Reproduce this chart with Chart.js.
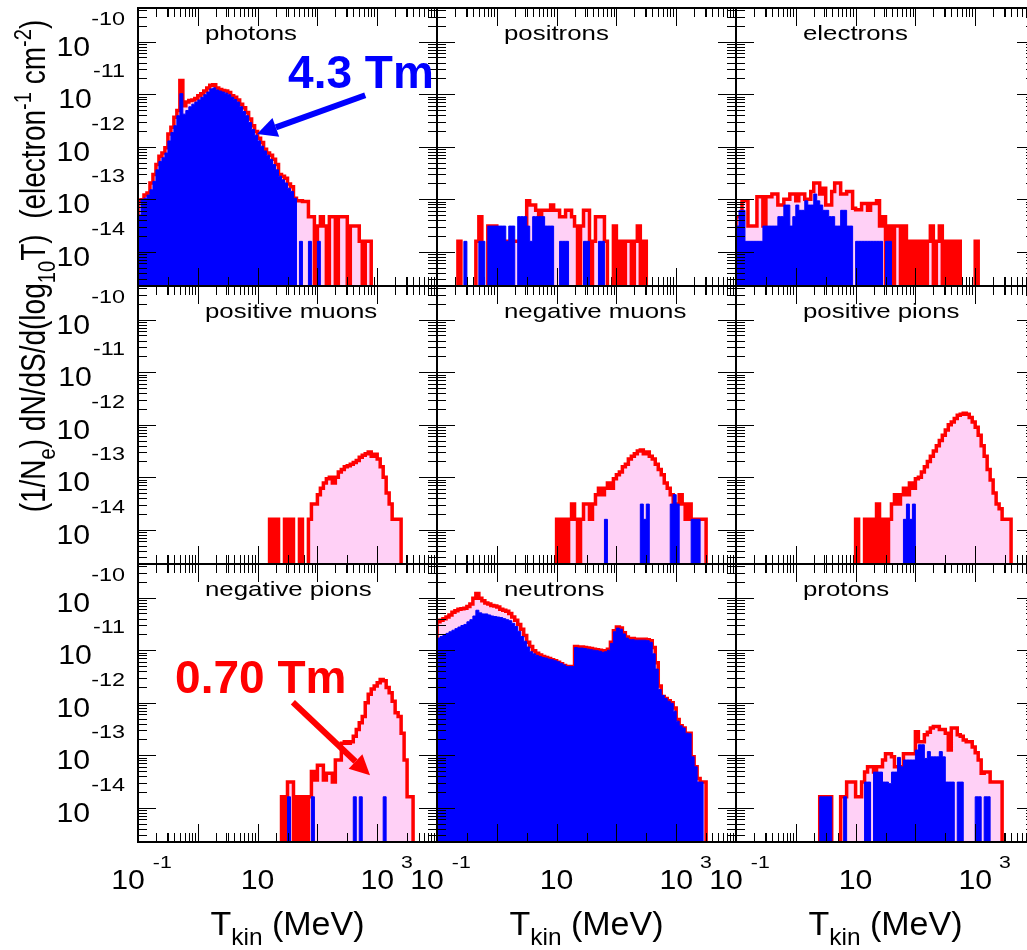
<!DOCTYPE html>
<html>
<head>
<meta charset="utf-8">
<script src="https://cdn.jsdelivr.net/npm/chart.js@4.4.1/dist/chart.umd.min.js"></script>
<style>
  html, body { margin: 0; padding: 0; background: #fff; overflow: hidden; }
  #wrap { position: relative; width: 1027px; height: 950px; overflow: hidden; background: #fff; }
  #wrap canvas { position: absolute; left: 0; top: 0; }
</style>
</head>
<body>
<div id="wrap"></div>
<script>
// histogram bins are 0.05 wide in log10(T/MeV); values are log10 of the flux, null = empty bin
const binWidth = 0.05;

const panelNames = ['photons', 'positrons', 'electrons',
                    'positive muons', 'negative muons', 'positive pions',
                    'negative pions', 'neutrons', 'protons'];

// red = 0.70 Tm, blue = 4.3 Tm ; *Start = log10(T) of the first bin's lower edge
const photonsStart = -1.0;
const photonsRed = [-13.04, -13.01, -12.92, -12.88, -12.69, -12.53, -12.34, -12.18, -12.12, -12.02,
                    -11.76, -11.63, -11.44, -11.31, -10.74, -11.22, -11.15, -11.12, -11.11, -11.08,
                    -11.03, -10.99, -10.94, -10.88, -10.83, -10.82, -10.88, -10.91, -10.93, -10.94,
                    -10.97, -11.03, -11.06, -11.11, -11.19, -11.26, -11.35, -11.47, -11.60, -11.71,
                    -11.84, -11.92, -12.05, -12.12, -12.16, -12.24, -12.34, -12.53, -12.56, -12.60,
                    -12.71, -12.76, -12.98, -13.03, -13.03, -13.04, -13.04, -13.33, -13.33, null,
                    -13.51, -13.33, -13.51, null, -13.33, -13.33, null, -13.33, -13.33, -13.33,
                    null, -13.51, -13.51, -13.51, -13.80, null, -13.80, -13.80];
const photonsBlue = [-13.30, -13.00, -12.98, -12.92, -12.82, -12.66, -12.44, -12.28, -12.21, -12.12,
                     -11.89, -11.73, -11.60, -11.41, -10.99, -11.38, -11.31, -11.24, -11.19, -11.15,
                     -11.11, -11.06, -11.01, -10.96, -10.90, -10.88, -10.92, -10.94, -10.96, -10.98,
                     -11.01, -11.06, -11.10, -11.15, -11.24, -11.33, -11.41, -11.54, -11.67, -11.78,
                     -11.89, -11.99, -12.08, -12.16, -12.24, -12.34, -12.44, -12.56, -12.63, -12.69,
                     -12.79, -12.85, -12.98, null, -13.80, null, null, -13.80, null, null,
                     -13.80];

const positronsStart = -0.65;
const positronsRed = [-13.80, null, null, null, null, null, -13.80, -13.33, null, null,
                      -13.51, -13.51, -13.51, -13.80, -13.80, -13.80, -13.80, -13.80, -13.80, -13.80,
                      -13.80, -13.51, -13.51, -13.03, -13.11, -13.11, -13.21, -13.33, -13.21, -13.21,
                      -13.21, -13.11, -13.21, -13.21, -13.33, -13.33, -13.21, -13.21, -13.33, -13.51,
                      null, -13.51, -13.21, -13.21, null, -13.80, -13.33, -13.33, -13.33, -13.80,
                      null, null, -13.51, null, -13.80, null, -13.80, -13.80, null, -13.80,
                      -13.51, null, -13.80];
const positronsBlue = [null, null, -13.80, null, null, null, null, -13.80, -13.80, null,
                       -13.51, -13.51, -13.51, -13.51, -13.51, -13.51, -13.80, -13.51, -13.51, null,
                       -13.33, -13.33, -13.33, -13.51, -13.80, -13.33, -13.33, -13.33, -13.33, -13.51,
                       -13.51, -13.51, null, null, -13.80, -13.80, -13.80, null, null, null,
                       null, null, -13.80, -13.80, null, null, null, -13.80, -13.80];

const electronsStart = -1.0;
const electronsRed = [-13.33, -13.33, -13.03, -13.03, -13.51, -13.51, -13.51, -12.95, -12.95, -13.51,
                      -12.95, -12.95, -12.90, -12.90, -13.11, -13.11, -13.00, -13.00, -12.90, -12.90,
                      -13.03, -12.90, -12.90, -13.00, -13.00, -12.85, -12.69, -12.69, -12.90, -12.79,
                      -13.11, -13.11, -12.85, -12.69, -12.69, -12.90, -12.90, -12.85, -12.85, -13.17,
                      -13.20, -13.20, -13.08, -13.08, -13.21, -13.08, -13.08, -13.03, -13.51, -13.33,
                      null, -13.51, null, -13.51, -13.51, null, -13.51, null, -13.80, null,
                      -13.80, null, -13.80, null, -13.80, -13.51, null, -13.80, -13.51, null,
                      -13.80, null, -13.80, null, -13.80, null, null, null, null, null,
                      -13.80, null];
const electronsBlue = [-13.51, -13.21, -13.21, -13.80, -13.80, -13.80, -13.80, -13.80, -13.80, -13.51,
                       -13.51, -13.51, -13.51, -13.51, -13.33, -13.33, -13.11, -13.11, -13.51, -13.33,
                       -13.11, -13.21, -13.21, -13.03, -13.11, -13.11, -12.90, -13.03, -13.11, -13.21,
                       -13.21, -13.33, -13.33, -13.51, -13.51, -13.21, -13.21, -13.51, -13.51, null,
                       -13.80, -13.80, -13.80, -13.80, -13.80, -13.80, -13.80, -13.80, -13.80, null,
                       -13.80, -13.80];

const positiveMuonsStart = 1.2;
const positiveMuonsRed = [-13.80, null, -13.80, null, null, -13.80, null, -13.80, null, null,
                          -13.80, null, null, -13.80, -13.51, -13.51, -13.33, -13.21, -13.11, -13.03,
                          -13.00, -13.11, -13.00, -12.90, -12.85, -12.80, -12.78, -12.75, -12.72, -12.68,
                          -12.62, -12.58, -12.55, -12.52, -12.60, -12.56, -12.65, -12.80, -13.00, -13.30,
                          -13.51, -13.80, -13.80, -13.80];
const positiveMuonsBlue = [];

const negativeMuonsStart = 1.0;
const negativeMuonsRed = [-13.80, null, -13.80, null, -13.80, -13.51, -13.80, null, -13.80, -13.51,
                          -13.51, -13.80, -13.51, -13.33, -13.21, -13.33, -13.21, -13.11, -13.21, -13.03,
                          -12.95, -12.90, -12.80, -12.75, -12.65, -12.60, -12.55, -12.50, -12.48, -12.55,
                          -12.52, -12.60, -12.65, -12.75, -12.85, -12.95, -13.11, -13.21, -13.33, -13.51,
                          -13.51, -13.33, -13.51, -13.80, -13.51, -13.80, -13.80, -13.80, -13.80, -13.80];
const negativeMuonsBlue = [null, null, null, null, null, null, null, null, null, null,
                           null, null, null, null, null, null, -13.80, null, null, null,
                           null, null, null, null, null, null, null, null, -13.51, -13.80,
                           -13.51, null, null, null, null, null, null, null, -13.51, -13.33,
                           -13.51, null, null, null, null, -13.80, -13.80, -13.80];

const positivePionsStart = 1.0;
const positivePionsRed = [-13.80, null, null, -13.80, null, -13.80, null, -13.51, null, -13.80,
                          null, -13.80, -13.51, -13.33, -13.51, -13.33, -13.21, -13.33, -13.11, -13.21,
                          -13.03, -13.00, -12.90, -12.80, -12.70, -12.60, -12.50, -12.40, -12.30, -12.20,
                          -12.10, -12.00, -11.95, -11.88, -11.82, -11.80, -11.78, -11.80, -11.86, -11.95,
                          -12.05, -12.20, -12.40, -12.60, -12.85, -13.05, -13.30, -13.51, -13.60, -13.80,
                          -13.80, -13.80];
const positivePionsBlue = [null, null, null, null, null, null, null, null, null, null,
                           null, null, null, null, null, null, -13.80, -13.51, -13.80, -13.51];

const negativePionsStart = 1.4;
const negativePionsRed = [-13.79, null, -13.51, -13.51, null, -13.79, null, -13.79, null, -13.79,
                          -13.31, -13.47, -13.19, -13.19, -13.47, -13.34, -13.34, -13.51, -13.09, -13.09,
                          -12.77, -12.74, -12.77, -12.74, -12.64, -12.51, -12.38, -12.26, -12.00, -11.84,
                          -11.74, -11.68, -11.62, -11.56, -11.58, -11.71, -11.81, -11.97, -12.19, -12.26,
                          -12.58, -13.09, -13.79, -13.79];
const negativePionsBlue = [null, null, -13.79, null, null, null, null, null, null, null,
                           -13.79, null, null, null, null, null, null, null, null, null,
                           null, null, null, null, -13.79, null, -13.79, null, null, null,
                           null, null, null, null, -13.79];

const neutronsStart = -1.0;
const neutronsRed = [-10.46, -10.43, -10.40, -10.37, -10.33, -10.28, -10.25, -10.22, -10.21, -10.20,
                     -10.17, -10.12, -10.01, -9.92, -10.01, -10.06, -10.10, -10.12, -10.15, -10.16,
                     -10.18, -10.22, -10.24, -10.26, -10.30, -10.37, -10.43, -10.51, -10.60, -10.72,
                     -10.85, -10.93, -11.01, -11.06, -11.09, -11.12, -11.14, -11.16, -11.18, -11.20,
                     -11.23, -11.26, -11.29, -11.32, -11.31, -11.31, -10.93, -10.94, -10.94, -10.95,
                     -10.96, -10.97, -10.98, -10.99, -11.00, -11.02, -11.01, -10.98, -10.85, -10.63,
                     -10.56, -10.58, -10.67, -10.75, -10.78, -10.78, -10.79, -10.79, -10.79, -10.79,
                     -10.80, -10.82, -10.95, -11.24, -11.68, -11.88, -11.92, -11.96, -12.00, -12.10,
                     -12.32, -12.44, -12.48, -12.58, -12.58, -13.03, -13.22, -13.44, -13.51, -13.51];
const neutronsBlue = [-10.77, -10.74, -10.71, -10.68, -10.65, -10.62, -10.59, -10.56, -10.53, -10.51,
                      -10.46, -10.42, -10.35, -10.24, -10.29, -10.31, -10.31, -10.33, -10.35, -10.36,
                      -10.37, -10.38, -10.40, -10.42, -10.44, -10.49, -10.55, -10.64, -10.74, -10.83,
                      -10.94, -11.03, -11.07, -11.10, -11.12, -11.14, -11.15, -11.17, -11.18, -11.20,
                      -11.22, -11.25, -11.28, -11.31, -11.31, -11.31, -10.95, -10.96, -10.96, -10.97,
                      -10.98, -10.99, -11.00, -11.01, -11.02, -11.04, -11.03, -11.00, -10.87, -10.65,
                      -10.58, -10.60, -10.69, -10.77, -10.80, -10.80, -10.81, -10.81, -10.81, -10.81,
                      -10.82, -10.85, -11.07, -11.36, -11.75, -11.86, -11.92, -11.97, -12.01, -12.16,
                      -12.35, -12.44, -12.48, -12.58, -12.59, -13.03, -13.22, -13.51, -13.51];

const protonsStart = 0.4;
const protonsRed = [-13.79, -13.79, -13.79, -13.79, null, null, null, -13.79, -13.79, -13.51,
                    -13.51, -13.51, -13.79, -13.79, -13.51, -13.32, -13.22, -13.22, -13.32, -13.22,
                    -13.22, -13.09, -12.97, -12.97, -13.03, -13.22, -13.22, -13.22, -12.97, -12.97,
                    -12.97, -12.97, -12.55, -12.74, -12.74, -12.61, -12.56, -12.48, -12.45, -12.45,
                    -12.51, -12.51, -12.58, -12.90, -12.48, -12.48, -12.61, -12.64, -12.71, -12.74,
                    -12.74, -12.84, -12.95, -13.09, -13.34, -13.32, -13.32, -13.51, -13.51, -13.51,
                    -13.51];
const protonsBlue = [-13.79, -13.79, -13.79, -13.79, null, null, null, null, -13.79, null,
                     null, null, null, null, null, -13.51, -13.51, null, -13.32, -13.32,
                     -13.32, -13.51, -13.51, -13.54, -13.32, -13.32, -13.04, -13.22, -13.09, -13.09,
                     -13.09, -13.09, -12.90, -12.80, -12.80, -13.06, -12.93, -13.03, -13.03, -13.03,
                     -12.93, -13.03, -13.51, -13.51, -13.51, null, -13.51, -13.51, null, null,
                     null, null, -13.79, -13.79, null, -13.79, -13.79];

// axis ticks that carry labels (powers of ten)
const xLabelPowers = [-1, 1, 3];
const yLabelPowers = [-10, -11, -12, -13, -14];

const panelData = [
  [photonsStart, photonsRed, photonsBlue],
  [positronsStart, positronsRed, positronsBlue],
  [electronsStart, electronsRed, electronsBlue],
  [positiveMuonsStart, positiveMuonsRed, positiveMuonsBlue],
  [negativeMuonsStart, negativeMuonsRed, negativeMuonsBlue],
  [positivePionsStart, positivePionsRed, positivePionsBlue],
  [negativePionsStart, negativePionsRed, negativePionsBlue],
  [neutronsStart, neutronsRed, neutronsBlue],
  [protonsStart, protonsRed, protonsBlue]
];

// ---- layout ----
const pageW = 1040, pageH = 950;
const colLeft = [138, 437, 736], rowTop = [8, 286, 564];
const panelW = 299, panelH = 278;
const xMin = 0.1, xMax = 1e4;
const yMin = Math.pow(10, -14.65), yMax = Math.pow(10, -9.36);
const emptyLevel = 1e-17;
const FONT = '"Liberation Sans", Arial, Helvetica, sans-serif';
const RED = '#ff0000', PINK = '#ffd0f6', BLUE = '#0000ff';

function steps(start, logs) {
  const pts = [];
  if (!logs.length) return pts;
  pts.push({ x: Math.pow(10, start), y: emptyLevel });
  logs.forEach((v, i) => {
    pts.push({ x: Math.pow(10, start + i * binWidth), y: v === null ? emptyLevel : Math.pow(10, v) });
  });
  pts.push({ x: Math.pow(10, start + logs.length * binWidth), y: emptyLevel });
  return pts;
}

function txt(ctx, str, x, y, size, o) {
  o = o || {};
  ctx.save();
  ctx.font = (o.bold ? 'bold ' : '') + size + 'px ' + FONT;
  ctx.fillStyle = o.color || '#000';
  ctx.textAlign = 'left';
  ctx.textBaseline = 'alphabetic';
  const s = o.stretch || 1;
  const w = ctx.measureText(str).width * s;
  let left = x;
  if (o.align === 'center') left = x - w / 2;
  else if (o.align === 'right') left = x - w;
  ctx.translate(left, y);
  ctx.scale(s, o.vstretch || 1);
  ctx.fillText(str, 0, 0);
  ctx.restore();
  return w;
}

function txtWidth(ctx, str, size, stretch) {
  ctx.save();
  ctx.font = size + 'px ' + FONT;
  const w = ctx.measureText(str).width * (stretch || 1);
  ctx.restore();
  return w;
}

// parts: [text, '' | 'sub' | 'sup'], centred on x
function rich(ctx, parts, x, y, size, stretch, vstretch) {
  const vs = vstretch || 1;
  let w = 0;
  parts.forEach(p => { w += txtWidth(ctx, p[0], p[1] ? size * 0.72 : size, stretch); });
  let cx = x - w / 2;
  parts.forEach(p => {
    const o = { stretch, vstretch: vs };
    if (p[1] === 'sub') cx += txt(ctx, p[0], cx, y + size * 0.3 * vs, size * 0.72, o);
    else if (p[1] === 'sup') cx += txt(ctx, p[0], cx, y - size * 0.42 * vs, size * 0.72, o);
    else cx += txt(ctx, p[0], cx, y, size, o);
  });
}

function arrow(ctx, x1, y1, x2, y2, color, width, headL, headW) {
  const a = Math.atan2(y2 - y1, x2 - x1);
  const bx = x2 - headL * Math.cos(a), by = y2 - headL * Math.sin(a);
  ctx.save();
  ctx.strokeStyle = color; ctx.fillStyle = color; ctx.lineWidth = width;
  ctx.beginPath(); ctx.moveTo(x1, y1); ctx.lineTo(bx, by); ctx.stroke();
  ctx.beginPath();
  ctx.moveTo(x2, y2);
  ctx.lineTo(bx + headW / 2 * Math.sin(a), by - headW / 2 * Math.cos(a));
  ctx.lineTo(bx - headW / 2 * Math.sin(a), by + headW / 2 * Math.cos(a));
  ctx.closePath(); ctx.fill();
  ctx.restore();
}

// annotations: [panel, label, colour, text logT, text log flux, arrow tail logT, tail flux, tip logT, tip flux]
const notes = [
  [0, '4.3 Tm', BLUE, 1.51, -10.88, 2.80, -11.02, 0.99, -11.76],
  [6, '0.70 Tm', RED, -0.38, -11.82, 1.59, -11.99, 2.88, -13.38]
];

function tickLine(ctx, x1, y1, x2, y2) {
  ctx.beginPath(); ctx.moveTo(x1, y1); ctx.lineTo(x2, y2); ctx.stroke();
}

function xTicks(chart, layer) {
  const { ctx, chartArea: a } = chart;
  const xs = chart.scales.x;
  ctx.save();
  ctx.strokeStyle = '#000'; ctx.lineWidth = 1;
  for (let d = -1; d <= 4; d++) {
    const marks = [];
    if (layer === 'under') { for (let m = 2; m <= 9; m++) marks.push([m * Math.pow(10, d), 9]); }
    else { marks.push([Math.pow(10, d), 18]); marks.push([Math.pow(10, d + 0.5), 9]); }
    marks.forEach(([v, len]) => {
      if (v < xMin * 0.999 || v > xMax * 1.001) return;
      const px = Math.round(xs.getPixelForValue(v)) + 0.5;
      tickLine(ctx, px, a.bottom, px, a.bottom - len);
      tickLine(ctx, px, a.top, px, a.top + len);
    });
  }
  ctx.restore();
}

function yTicks(chart) {
  const { ctx, chartArea: a } = chart;
  const ys = chart.scales.y;
  ctx.save();
  ctx.strokeStyle = '#000'; ctx.lineWidth = 1;
  for (let d = -15; d <= -9; d++) {
    for (let m = 1; m <= 9; m++) {
      const v = m * Math.pow(10, d);
      if (v < yMin || v > yMax) continue;
      const len = m === 1 ? 18 : 9;
      const py = Math.round(ys.getPixelForValue(v)) + 0.5;
      tickLine(ctx, a.left, py, a.left + len, py);
      tickLine(ctx, a.right, py, a.right - len, py);
    }
  }
  ctx.restore();
}

const rootPanel = {
  id: 'rootPanel',
  beforeDatasetsDraw(chart) {
    xTicks(chart, 'under');
  },
  afterDatasetsDraw(chart, args, opts) {
    const { ctx, chartArea: a } = chart;
    const xs = chart.scales.x, ys = chart.scales.y;
    const idx = opts.index, col = idx % 3, row = Math.floor(idx / 3);
    xTicks(chart, 'over');
    yTicks(chart);
    ctx.save();
    ctx.strokeStyle = '#000'; ctx.lineWidth = 2;
    ctx.strokeRect(a.left, a.top, a.right - a.left, a.bottom - a.top);
    ctx.restore();

    txt(ctx, panelNames[idx], a.left + 67, a.top + 32, 21, { stretch: 1.23 });

    if (col === 0) {
      yLabelPowers.forEach(p => {
        const py = ys.getPixelForValue(Math.pow(10, p));
        const ew = txtWidth(ctx, String(p), 18, 1.3);
        const eLeft = a.left - 13 - ew;
        txt(ctx, String(p), eLeft, py - 17, 18, { stretch: 1.3 });
        txt(ctx, '10', eLeft - 1, py + 14, 27, { stretch: 1.12, align: 'right' });
      });
    }
    if (row === 2) {
      xLabelPowers.forEach(p => {
        const px = xs.getPixelForValue(Math.pow(10, p));
        const bw = txtWidth(ctx, '10', 27, 1.12);
        const bc = p < 0 ? px - 10 : px;
        txt(ctx, '10', bc - bw / 2, a.bottom + 47, 27, { stretch: 1.12 });
        if (p !== 1) txt(ctx, String(p), bc + bw / 2 + (p < 0 ? 8 : 7), a.bottom + 26, 17, { stretch: 1.25 });
      });
    }

    notes.filter(n => n[0] === idx).forEach(n => {
      txt(ctx, n[1], xs.getPixelForValue(Math.pow(10, n[3])), ys.getPixelForValue(Math.pow(10, n[4])),
          46, { bold: true, color: n[2] });
      arrow(ctx, xs.getPixelForValue(Math.pow(10, n[5])), ys.getPixelForValue(Math.pow(10, n[6])),
            xs.getPixelForValue(Math.pow(10, n[7])), ys.getPixelForValue(Math.pow(10, n[8])),
            n[2], 6, 20, 20);
    });
  },
  afterDraw(chart, args, opts) {
    if (opts.index !== 0) return;
    const ctx = chart.ctx;
    // x axis titles under each column
    colLeft.forEach(l => {
      rich(ctx, [['T', ''], ['kin', 'sub'], [' (MeV)', '']], l + panelW / 2, 935, 34, 1.0);
    });
    // y axis title, rotated
    ctx.save();
    ctx.translate(45, 266);
    ctx.rotate(-Math.PI / 2);
    rich(ctx, [['(1/N', ''], ['e', 'sub'], [') dN/dS/d(log', ''], ['10', 'sub'], ['T)  (electron', ''],
               ['-1', 'sup'], [' cm', ''], ['-2', 'sup'], [')', '']], 0, 0, 28, 1.0, 1.22);
    ctx.restore();
  }
};

const wrap = document.getElementById('wrap');
panelData.forEach((pd, idx) => {
  const col = idx % 3, row = Math.floor(idx / 3);
  const canvas = document.createElement('canvas');
  canvas.width = pageW; canvas.height = pageH;
  wrap.appendChild(canvas);
  new Chart(canvas, {
    type: 'line',
    data: {
      datasets: [
        { data: steps(pd[0], pd[2]), borderColor: BLUE, backgroundColor: BLUE, borderWidth: 1,
          fill: 'start', stepped: true, pointRadius: 0, clip: 0, order: 0 },
        { data: steps(pd[0], pd[1]), borderColor: RED, backgroundColor: PINK, borderWidth: 3.5,
          fill: 'start', stepped: true, pointRadius: 0, clip: 0, order: 1 }
      ]
    },
    options: {
      responsive: false,
      animation: false,
      devicePixelRatio: 1,
      events: [],
      layout: { padding: { left: colLeft[col], top: rowTop[row],
                           right: pageW - colLeft[col] - panelW, bottom: pageH - rowTop[row] - panelH } },
      plugins: { legend: { display: false }, tooltip: { enabled: false }, rootPanel: { index: idx } },
      scales: {
        x: { type: 'logarithmic', min: xMin, max: xMax, display: false },
        y: { type: 'logarithmic', min: yMin, max: yMax, display: false }
      }
    },
    plugins: [rootPanel]
  });
});
</script>
</body>
</html>
